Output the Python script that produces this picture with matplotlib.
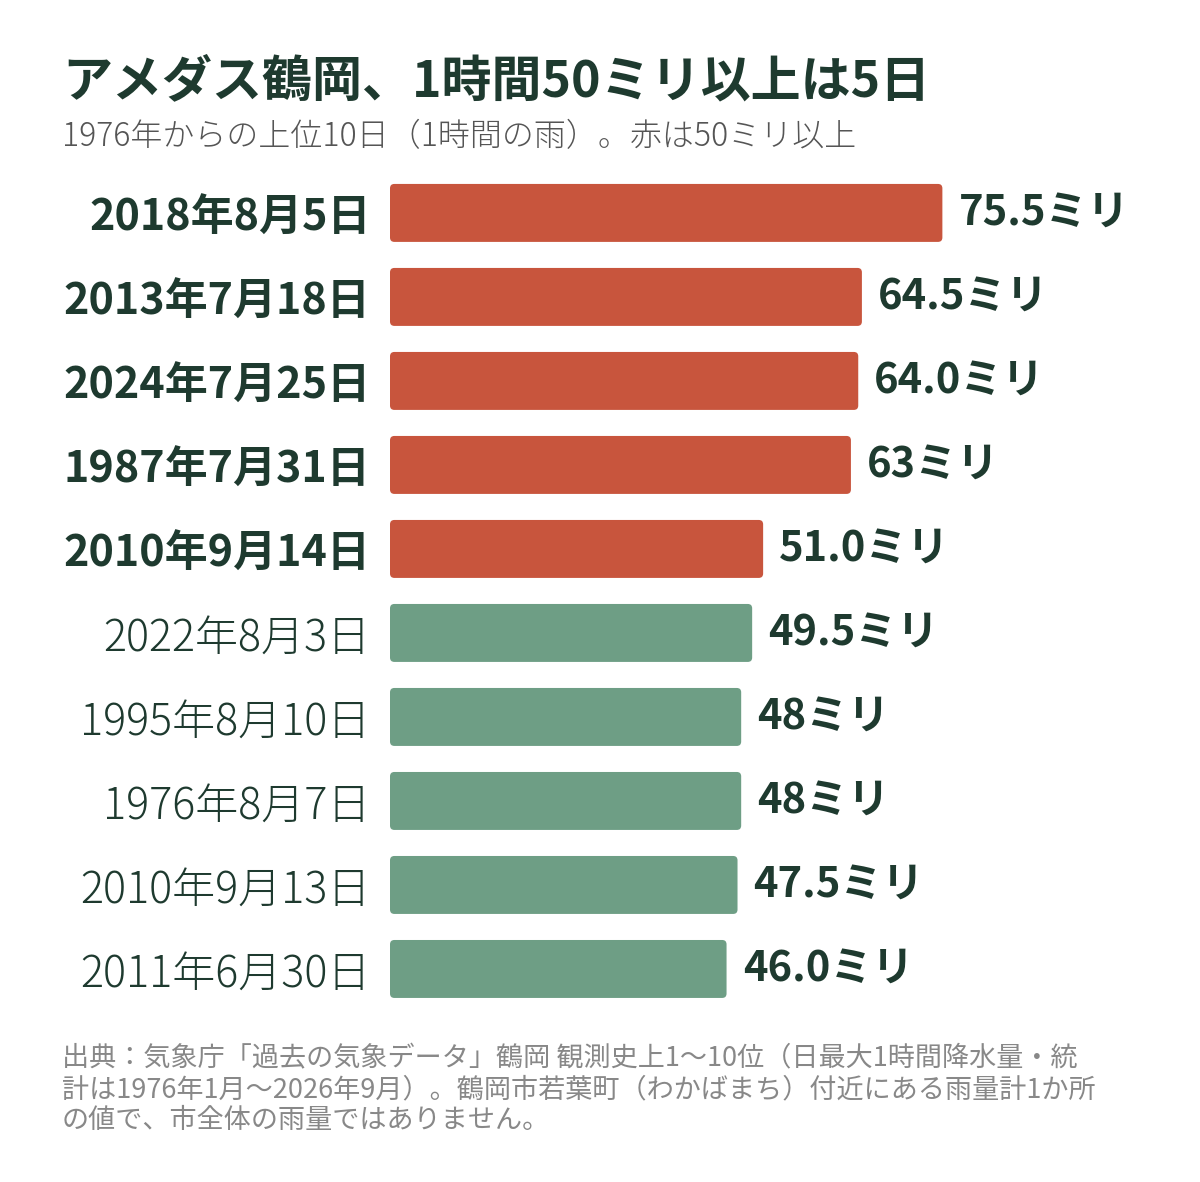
import matplotlib.pyplot as plt
from matplotlib.patches import FancyBboxPatch

plt.rcParams['font.family'] = ['Noto Sans CJK JP', 'DejaVu Sans']

dates = ['2018年8月5日', '2013年7月18日', '2024年7月25日', '1987年7月31日', '2010年9月14日',
         '2022年8月3日', '1995年8月10日', '1976年8月7日', '2010年9月13日', '2011年6月30日']
values = [75.5, 64.5, 64.0, 63, 51.0, 49.5, 48, 48, 47.5, 46.0]
value_labels = ['75.5', '64.5', '64.0', '63', '51.0', '49.5', '48', '48', '47.5', '46.0']

RED = '#C8553D'
GREEN = '#6E9E85'
DARK = '#1E3A2F'

fig = plt.figure(figsize=(12, 11.82), dpi=100)
ax = fig.add_axes([0.325, 0.1447, 0.658, 0.7107])

xmax = 790 / 7.32
ax.set_xlim(0, xmax)
ax.set_ylim(len(values) - 0.5, -0.5)
colors = [RED if v >= 50 else GREEN for v in values]
bars = ax.barh(range(len(values)), values, height=0.69, color=colors)

# swap plain bars for slightly rounded ones
aspect = 7.32 / 84
for b in bars:
    b.set_visible(False)
    ax.add_patch(FancyBboxPatch((b.get_x(), b.get_y()), b.get_width(), b.get_height(),
                                boxstyle='round,pad=0,rounding_size=0.6',
                                mutation_aspect=aspect, color=b.get_facecolor(), lw=0))

for i, (v, lab) in enumerate(zip(values, value_labels)):
    ax.text(v + 2.2, i, lab + 'ミリ', va='center', ha='left', fontsize=30,
            fontweight='bold', color=DARK)

ax.set_yticks(range(len(values)))
ax.set_yticklabels(dates)
for i, t in enumerate(ax.get_yticklabels()):
    t.set_fontsize(31)
    t.set_color(DARK)
    t.set_fontweight('bold' if values[i] >= 50 else 'light')
ax.tick_params(axis='y', length=0, pad=14)
ax.set_xticks([])
for s in ax.spines.values():
    s.set_visible(False)

fig.text(62 / 1200, 1 - 82 / 1182, 'アメダス鶴岡、1時間50ミリ以上は5日', fontsize=36,
         fontweight='bold', color=DARK, va='center')
fig.text(62 / 1200, 1 - 137 / 1182, '1976年からの上位10日（1時間の雨）。赤は50ミリ以上',
         fontsize=23, fontweight='light', color='#555555', va='center')
fig.text(62 / 1200, 1 - 1045 / 1182,
         '出典：気象庁「過去の気象データ」鶴岡 観測史上1〜10位（日最大1時間降水量・統\n'
         '計は1976年1月〜2026年9月）。鶴岡市若葉町（わかばまち）付近にある雨量計1か所\n'
         'の値で、市全体の雨量ではありません。',
         fontsize=19.5, color='#888888', va='top', linespacing=1.2)

fig.savefig('out.png', dpi=100, facecolor='white')
